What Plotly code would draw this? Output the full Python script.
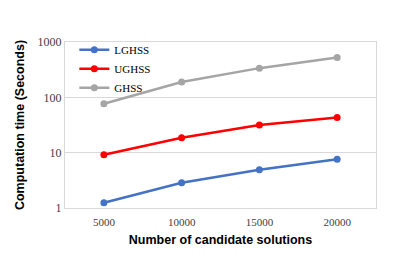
import plotly.graph_objects as go

categories = ["5000", "10000", "15000", "20000"]
lghss = [1.24, 2.86, 4.9, 7.6]
ughss = [9.2, 18.6, 31.5, 43]
ghss = [76.7, 189, 337, 525]
y_ticks = [1, 10, 100, 1000]

series = [("LGHSS", lghss, "#4472C4"), ("UGHSS", ughss, "#FF0000"), ("GHSS", ghss, "#A5A5A5")]

fig = go.Figure()
for name, vals, col in series:
    fig.add_trace(go.Scatter(x=categories, y=vals, name=name, mode="lines+markers",
                             line=dict(color=col, width=2.5),
                             marker=dict(color=col, size=7)))

# page body has an 8px default margin, so the figure is 8px smaller and offset
fig.update_layout(
    width=390, height=263,
    margin=dict(l=57, r=22, t=34, b=63, autoexpand=False),
    paper_bgcolor="white", plot_bgcolor="white",
    showlegend=True,
    legend=dict(x=0.03, y=1.04, xanchor="left", yanchor="top",
                font=dict(family="Liberation Serif", size=11, color="#000"),
                bgcolor="rgba(0,0,0,0)", tracegroupgap=0),
    xaxis=dict(type="category", range=[-0.5, 3.5], automargin=False,
               showline=True, linecolor="#D9D9D9", linewidth=1, mirror=True,
               showgrid=False, ticks="", ticklabelstandoff=4,
               tickfont=dict(family="Liberation Serif", size=11, color="#404040"),
               title=dict(text="<b>Number of candidate solutions</b>",
                          font=dict(family="Liberation Sans", size=12.5, color="#000"),
                          standoff=8)),
    yaxis=dict(type="log", range=[0, 3], tickvals=y_ticks, automargin=False,
               ticktext=[str(v) for v in y_ticks],
               showline=True, linecolor="#D9D9D9", linewidth=1, mirror=True,
               showgrid=True, gridcolor="#D9D9D9", gridwidth=1, ticks="",
               tickfont=dict(family="Liberation Serif", size=12, color="#404040"),
               title=dict(text="<b>Computation time (Seconds)</b>",
                          font=dict(family="Liberation Sans", size=12.5, color="#000"),
                          standoff=10)),
)

fig.write_html("out.html")
